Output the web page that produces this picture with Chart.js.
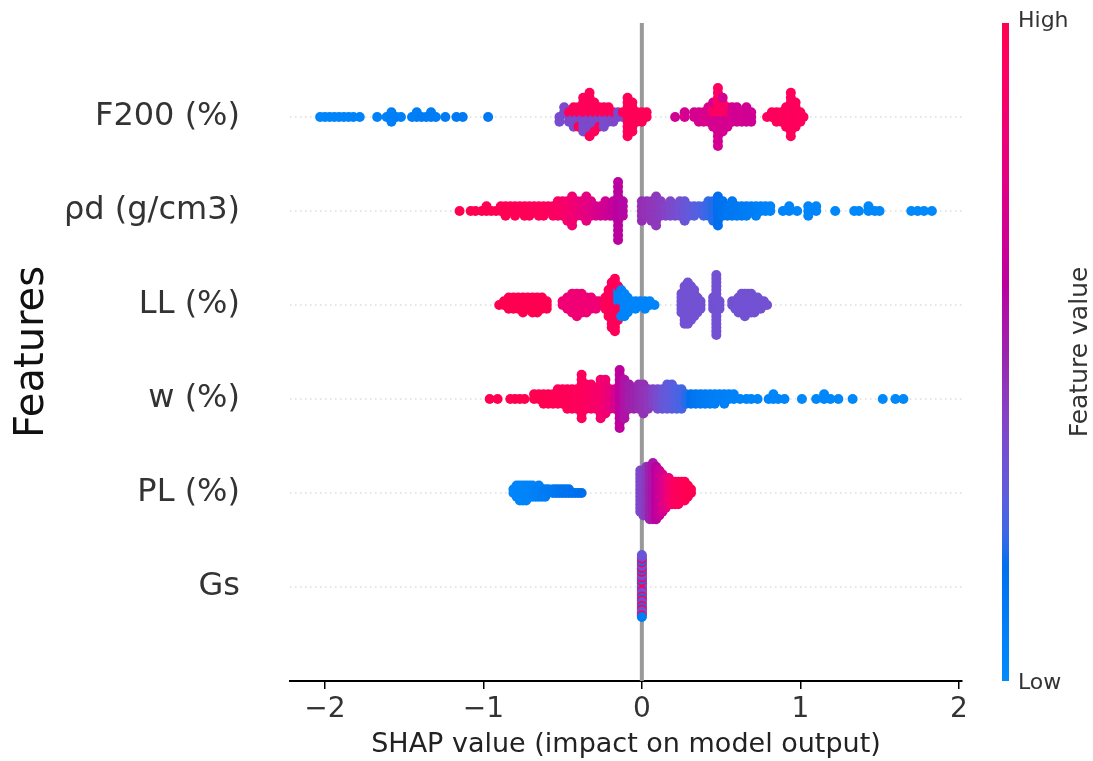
<!DOCTYPE html>
<html>
<head>
<meta charset="utf-8">
<script src="https://cdn.jsdelivr.net/npm/chart.js@4.4.1/dist/chart.umd.min.js"></script>
<style>
  html, body { margin: 0; padding: 0; background: #fff; }
</style>
</head>
<body>
<canvas id="shap" width="1093" height="761"></canvas>
<script>
// feature names, bottom row first (row index = y value)
const features = ['Gs', 'PL (%)', 'w (%)', 'LL (%)', 'ρd (g/cm3)', 'F200 (%)'];
const xTicks = [-2, -1, 0, 1, 2];

// each entry: [SHAP value, feature value (0 low .. 1 high), samples at that value]
const f200 = [
  [-2.03,.03,1],[-2.00,.03,1],[-1.97,.04,1],[-1.94,.04,1],[-1.91,.05,1],[-1.88,.05,1],[-1.85,.05,1],[-1.82,.06,1],
  [-1.78,.06,1],[-1.67,.07,1],[-1.61,.07,1],[-1.58,.08,3],[-1.55,.08,1],[-1.52,.08,1],[-1.45,.09,1],[-1.42,.09,2],
  [-1.39,.1,1],[-1.36,.1,1],[-1.33,.1,2],[-1.30,.1,1],[-1.24,.11,1],[-1.17,.12,1],[-1.13,.12,1],[-0.97,.12,1],
  [-0.52,.36,2],[-0.49,.37,2],[-0.46,.37,2],[-0.46,.96,1],[-0.43,.36,3],[-0.43,.97,2],[-0.40,.38,2],[-0.40,.97,3],
  [-0.37,.37,4],[-0.37,.96,4],[-0.33,.38,4],[-0.33,.97,6],[-0.30,.37,3],[-0.30,.96,4],[-0.27,.38,2],[-0.27,.97,3],
  [-0.24,.36,3],[-0.24,.96,2],[-0.21,.37,2],[-0.21,.97,2],[-0.18,.38,2],[-0.18,.96,1],[-0.15,.37,2],[-0.12,.38,1],
  [-0.12,.97,1],[-0.09,.98,9],[-0.06,.98,7],[-0.03,.97,3],[0.00,.98,3],[0.03,.97,2],
  [0.21,.68,1],[0.27,.7,2],[0.33,.7,2],[0.36,.7,3],[0.39,.72,3],[0.42,.72,4],[0.45,.7,4],[0.45,.92,2],
  [0.48,.7,7],[0.48,.93,6],[0.51,.7,5],[0.51,.92,3],[0.54,.7,3],[0.54,.9,2],[0.57,.7,4],[0.60,.68,4],
  [0.63,.7,3],[0.66,.68,4],[0.69,.68,3],
  [0.79,.95,1],[0.82,.95,2],[0.85,.95,3],[0.88,.96,3],[0.91,.95,5],[0.94,.96,10],[0.97,.95,6],[1.00,.96,3],[1.02,.95,1]
];

const rhoD = [
  [-1.15,1,1],[-1.08,1,1],[-1.05,1,1],[-1.01,1,1],[-0.98,1,2],[-0.95,1,1],[-0.92,1,1],[-0.89,.99,2],
  [-0.86,.99,3],[-0.83,.99,2],[-0.80,.98,3],[-0.77,.98,2],[-0.74,.98,3],[-0.71,.97,3],[-0.68,.97,2],[-0.65,.96,3],
  [-0.62,.96,3],[-0.59,.95,2],[-0.56,.93,3],[-0.53,.92,4],[-0.50,.9,4],[-0.47,.88,5],[-0.44,.86,7],[-0.41,.84,4],
  [-0.38,.8,4],[-0.35,.78,6],[-0.32,.75,4],[-0.29,.72,3],[-0.26,.7,3],[-0.23,.68,4],[-0.20,.66,3],[-0.18,.63,4],
  [-0.15,.6,13],[-0.12,.58,4],
  [0.00,.47,5],[0.03,.46,4],[0.06,.45,5],[0.09,.44,7],[0.12,.42,4],[0.15,.4,3],[0.18,.38,4],[0.21,.36,3],
  [0.24,.34,4],[0.27,.32,5],[0.30,.3,3],[0.33,.28,3],[0.36,.26,2],[0.39,.24,3],[0.42,.22,4],[0.45,.2,5],
  [0.48,.18,7],[0.51,.16,4],[0.54,.14,3],[0.57,.13,4],[0.60,.12,3],[0.63,.11,3],[0.66,.1,3],[0.69,.09,2],
  [0.72,.08,3],[0.75,.07,2],[0.78,.06,2],[0.81,.05,2],
  [0.89,.04,1],[0.93,.04,2],[0.98,.03,1],[1.05,.03,3],[1.10,.03,2],[1.22,.02,1],[1.34,.02,1],[1.37,.02,1],
  [1.43,.02,2],[1.47,.02,1],[1.50,.02,1],[1.70,.01,1],[1.74,.01,1],[1.78,.01,1],[1.83,.01,1]
];

const ll = [
  [-0.90,1,1],[-0.87,1,2],[-0.84,1,4],[-0.81,1,4],[-0.78,1,4],[-0.75,1,5],[-0.72,1,4],[-0.69,1,5],
  [-0.66,1,5],[-0.63,1,4],[-0.60,1,3],
  [-0.50,.84,2],[-0.47,.84,4],[-0.44,.84,6],[-0.41,.84,7],[-0.38,.84,6],[-0.35,.84,5],[-0.32,.84,4],[-0.29,.84,3],
  [-0.27,.84,2],
  [-0.23,.97,4],[-0.21,.97,8],[-0.19,.97,13],[-0.17,.97,15],[-0.15,.97,6],[-0.15,.05,4],[-0.13,.97,3],[-0.13,.05,5],
  [-0.11,.05,7],[-0.09,.05,5],[-0.07,.05,3],[-0.04,.05,3],[-0.01,.05,2],[0.02,.05,3],[0.05,.05,2],[0.08,.05,1],
  [0.25,.34,6],[0.27,.34,11],[0.29,.34,12],[0.31,.34,10],[0.33,.34,8],[0.35,.34,5],[0.37,.34,3],
  [0.45,.34,4],[0.47,.34,17],[0.49,.34,3],
  [0.57,.34,2],[0.59,.34,3],[0.61,.34,5],[0.63,.34,6],[0.65,.34,7],[0.67,.34,6],[0.69,.34,6],[0.71,.34,5],
  [0.73,.34,4],[0.75,.34,3],[0.77,.34,2],[0.79,.34,1]
];

const w = [
  [-0.96,1,1],[-0.91,1,1],[-0.83,1,1],[-0.80,1,1],[-0.77,1,1],[-0.74,1,1],[-0.68,1,2],[-0.65,1,2],
  [-0.62,1,3],[-0.59,.99,3],[-0.56,.99,3],[-0.53,.98,4],[-0.50,.98,4],[-0.47,.97,5],[-0.44,.97,5],[-0.41,.96,5],
  [-0.38,.95,10],[-0.35,.94,6],[-0.32,.92,6],[-0.29,.9,5],[-0.26,.88,9],[-0.23,.85,8],[-0.20,.8,5],[-0.17,.72,5],
  [-0.14,.62,13],[-0.11,.56,9],[-0.08,.52,6],[-0.05,.5,5],[-0.02,.48,6],[0.01,.46,7],[0.04,.44,5],[0.07,.4,4],
  [0.10,.36,5],[0.13,.32,5],[0.16,.3,6],[0.19,.28,6],[0.22,.26,5],[0.25,.24,5],[0.28,.2,3],[0.31,.17,3],
  [0.34,.14,3],[0.37,.12,3],[0.40,.11,3],[0.43,.1,3],[0.46,.09,3],[0.49,.08,2],[0.52,.08,3],[0.55,.07,2],
  [0.58,.06,2],[0.62,.05,1],[0.66,.05,1],[0.69,.04,1],[0.73,.04,1],[0.80,.03,1],[0.83,.03,2],[0.86,.03,1],
  [0.90,.03,1],[1.01,.02,1],[1.10,.02,1],[1.15,.02,2],[1.19,.02,1],[1.24,.02,1],[1.33,.02,1],[1.52,.01,1],
  [1.60,.01,1],[1.65,.01,1]
];

const pl = [
  [-0.81,.03,2],[-0.79,.03,4],[-0.77,.04,5],[-0.75,.04,5],[-0.73,.05,5],[-0.71,.05,4],[-0.69,.06,4],[-0.67,.07,3],
  [-0.65,.08,4],[-0.63,.09,3],[-0.61,.1,3],[-0.59,.11,2],[-0.56,.12,2],[-0.54,.13,2],[-0.52,.14,2],[-0.50,.15,2],
  [-0.48,.16,2],[-0.46,.16,2],[-0.44,.17,1],[-0.42,.17,1],[-0.40,.18,1],[-0.38,.18,1],
  [-0.01,.38,12],[0.01,.4,13],[0.03,.44,14],[0.05,.5,15],[0.07,.55,16],[0.09,.6,15],[0.11,.64,13],[0.13,.7,11],
  [0.15,.76,9],[0.17,.82,8],[0.19,.88,7],[0.21,.92,7],[0.23,.95,7],[0.25,.97,6],[0.27,.98,6],[0.29,1,4],[0.31,1,2]
];

// every Gs sample has a SHAP value of 0; feature values vary
const gs = [[0,.95,7],[0,.38,7],[0,.1,7],[0,.32,7],[0,.9,6]];

const rows = [gs, pl, w, ll, rhoD, f200];

// shap "red_blue" colormap, built in LCH like the shap package does
function lab2rgb(L, a, b) {
  let y = (L + 16) / 116, x = a / 500 + y, z = y - b / 200;
  const f = t => (t ** 3 > 0.008856 ? t ** 3 : (t - 16 / 116) / 7.787);
  x = 0.95047 * f(x); y = f(y); z = 1.08883 * f(z);
  const lin = [
    x * 3.2406 + y * -1.5372 + z * -0.4986,
    x * -0.9689 + y * 1.8758 + z * 0.0415,
    x * 0.0557 + y * -0.2040 + z * 1.0570
  ];
  return lin.map(c => {
    const g = c > 0.0031308 ? 1.055 * Math.pow(c, 1 / 2.4) - 0.055 : 12.92 * c;
    return 255 * Math.min(1, Math.max(0, g));
  });
}
const cmap = (() => {
  const n = 100, half = n / 2, out = [];
  const blue = [54, 70, 4.6588], red = [54, 90, 0.35470565 + 2 * Math.PI], lMid = 40;
  for (let i = 0; i < n; i++) {
    const t = i / (n - 1);
    const l = i < half ? blue[0] + (lMid - blue[0]) * i / (half - 1)
                       : lMid + (red[0] - lMid) * (i - half) / (half - 1);
    const c = blue[1] + (red[1] - blue[1]) * t;
    const h = blue[2] + (red[2] - blue[2]) * t;
    out.push(lab2rgb(l, c * Math.cos(h), c * Math.sin(h)));
  }
  return out;
})();
function shapColor(v) {
  const f = Math.min(1, Math.max(0, v)) * 99;
  const i = Math.min(98, Math.floor(f)), t = f - i;
  const a = cmap[i], b = cmap[i + 1];
  return 'rgb(' + a.map((c, k) => Math.round(c + (b[k] - c) * t)).join(',') + ')';
}

// beeswarm stacking, same binning as shap's summary plot
function swarm(entries, row) {
  const pts = [];
  entries.forEach(([s, v, n], e) => {
    for (let j = 0; j < n; j++) pts.push({ s, v, j, e });
  });
  const sMin = Math.min(...pts.map(p => p.s));
  const sMax = Math.max(...pts.map(p => p.s));
  pts.forEach(p => { p.q = Math.round(100 * (p.s - sMin) / (sMax - sMin + 1e-8)); });
  const order = pts.slice().sort((a, b) => a.q - b.q || a.j - b.j || a.e - b.e);
  let layer = 0, last = -1;
  order.forEach(p => {
    if (p.q !== last) layer = 0;
    p.dy = Math.ceil(layer / 2) * ((layer % 2) * 2 - 1);
    layer++;
    last = p.q;
  });
  const top = Math.max(...pts.map(p => p.dy + 1));
  return order.map(p => ({ x: p.s, y: row + p.dy * 0.9 * 0.4 / top, v: p.v }));
}

const datasets = rows.map((entries, row) => {
  const pts = swarm(entries, row);
  return {
    label: features[row],
    data: pts.map(p => ({ x: p.x, y: p.y })),
    pointBackgroundColor: pts.map(p => shapColor(p.v)),
    pointBorderWidth: 0,
    pointRadius: 5,
    pointHoverRadius: 5
  };
});

const backdrop = {
  id: 'backdrop',
  beforeDatasetsDraw(chart) {
    const { ctx, chartArea: a, scales: { x, y } } = chart;
    ctx.save();
    ctx.strokeStyle = '#cccccc';
    ctx.lineWidth = 1.2;
    ctx.setLineDash([1.5, 3.5]);
    features.forEach((f, i) => {
      const py = y.getPixelForValue(i);
      ctx.beginPath(); ctx.moveTo(a.left, py); ctx.lineTo(a.right, py); ctx.stroke();
    });
    ctx.setLineDash([]);
    ctx.strokeStyle = '#999999';
    ctx.lineWidth = 4;
    const px = x.getPixelForValue(0);
    ctx.beginPath(); ctx.moveTo(px, a.top); ctx.lineTo(px, a.bottom); ctx.stroke();
    ctx.restore();
  }
};

const colorbar = {
  id: 'colorbar',
  afterDraw(chart) {
    const { ctx, chartArea: a } = chart;
    const x0 = a.right + 40, bw = 7;
    const g = ctx.createLinearGradient(0, a.bottom, 0, a.top);
    for (let i = 0; i <= 40; i++) g.addColorStop(i / 40, shapColor(i / 40));
    ctx.save();
    ctx.fillStyle = g;
    ctx.fillRect(x0, a.top, bw, a.bottom - a.top);
    ctx.fillStyle = '#333333';
    ctx.font = '22px "DejaVu Sans"';
    ctx.textAlign = 'left';
    ctx.textBaseline = 'middle';
    ctx.fillText('High', x0 + bw + 9, a.top - 2);
    ctx.fillText('Low', x0 + bw + 9, a.bottom + 2);
    ctx.font = '25px "DejaVu Sans"';
    ctx.translate(x0 + 78, (a.top + a.bottom) / 2);
    ctx.rotate(-Math.PI / 2);
    ctx.textAlign = 'center';
    ctx.fillText('Feature value', 0, 0);
    ctx.restore();
  }
};

Chart.defaults.font.family = '"DejaVu Sans", sans-serif';

new Chart(document.getElementById('shap'), {
  type: 'scatter',
  data: { datasets },
  plugins: [backdrop, colorbar],
  options: {
    responsive: false,
    animation: false,
    events: [],
    layout: { padding: { top: 23, right: 131, bottom: 0, left: 0 } },
    plugins: { legend: { display: false }, tooltip: { enabled: false } },
    scales: {
      x: {
        type: 'linear',
        min: -2.22,
        max: 2.02,
        afterBuildTicks: s => { s.ticks = xTicks.map(v => ({ value: v })); },
        afterFit: s => { s.height = 80; },
        grid: { drawOnChartArea: false, drawTicks: true, tickLength: 8, color: '#000', lineWidth: 1.5 },
        border: { display: true, color: '#000', width: 2 },
        ticks: {
          color: '#333',
          font: { size: 28 },
          padding: 4,
          callback: v => (v < 0 ? '\u2212' + Math.abs(v) : String(v))
        },
        title: {
          display: true,
          text: 'SHAP value (impact on model output)',
          color: '#222',
          font: { size: 27 },
          padding: { top: 0, bottom: 0 }
        }
      },
      y: {
        type: 'linear',
        min: -1,
        max: 6,
        afterBuildTicks: s => { s.ticks = features.map((f, i) => ({ value: i })); },
        afterFit: s => { s.width = 290; },
        // invisible tick marks give the gap between labels and plot
        grid: { display: true, drawOnChartArea: false, drawTicks: true, tickLength: 50, color: 'rgba(0,0,0,0)' },
        border: { display: false },
        ticks: {
          color: '#333',
          font: { size: 32 },
          padding: 0,
          callback: v => features[v] || ''
        },
        title: {
          display: true,
          text: 'Features',
          color: '#111',
          font: { size: 40 },
          padding: { top: 9, bottom: 0 }
        }
      }
    }
  }
});
</script>
</body>
</html>
